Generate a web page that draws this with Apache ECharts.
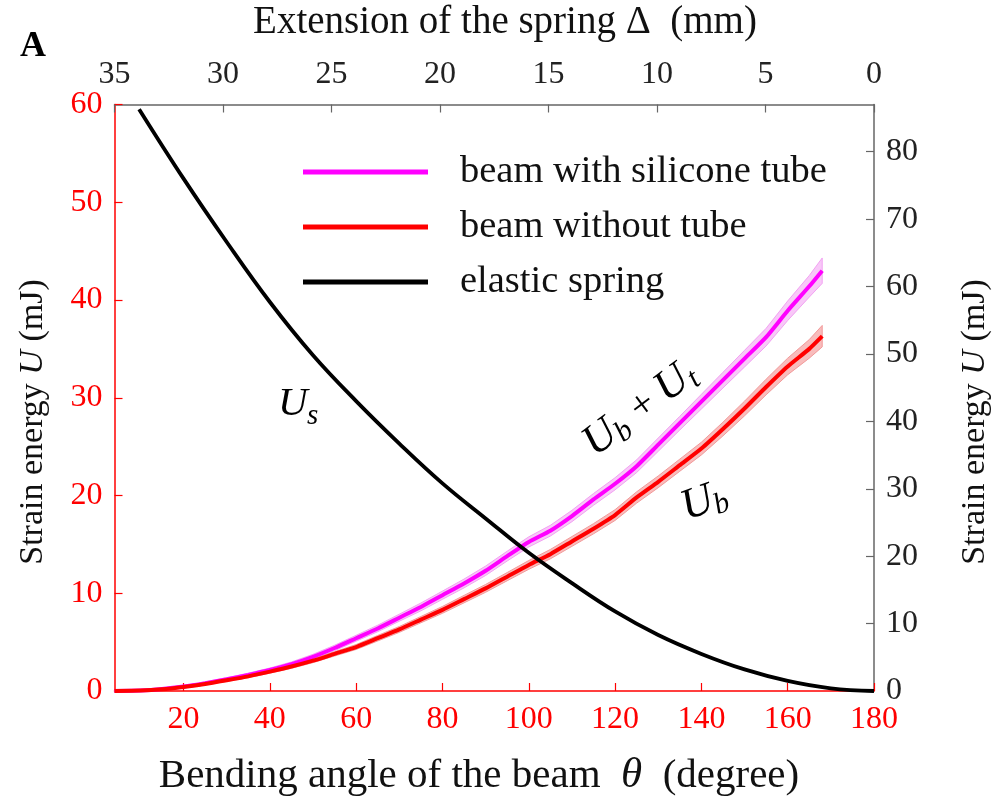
<!DOCTYPE html>
<html>
<head>
<meta charset="utf-8">
<script src="https://cdn.jsdelivr.net/npm/echarts@6/dist/echarts.min.js"></script>
<style>
  html, body { margin: 0; padding: 0; background: #fff; }
  #chart { width: 995px; height: 809px; }
</style>
</head>
<body>
<div id="chart"></div>
<script>
// Bending angle samples (degree) for the beam measurements
const thetaBeam = [4, 10, 15, 20, 25, 30, 35, 40, 45, 50, 55, 60, 65, 70, 75, 80, 85, 90, 95, 100,
                   105, 110, 115, 120, 125, 130, 135, 140, 145, 150, 155, 160, 165, 168];
// Beam with silicone tube: mean strain energy (mJ) and spread
const tubeMean = [0, 0.05, 0.2, 0.45, 0.8, 1.2, 1.65, 2.15, 2.75, 3.5, 4.4, 5.4, 6.4, 7.5, 8.6, 9.8,
                  11.0, 12.3, 13.8, 15.25, 16.4, 17.9, 19.6, 21.2, 23.0, 25.2, 27.4, 29.6, 31.8, 34.0,
                  36.2, 38.9, 41.4, 43.0];
const tubeSpread = [0, 0.05, 0.08, 0.1, 0.12, 0.15, 0.18, 0.2, 0.22, 0.25, 0.28, 0.3, 0.33, 0.36, 0.4, 0.42,
                    0.45, 0.48, 0.5, 0.52, 0.55, 0.58, 0.6, 0.62, 0.65, 0.68, 0.7, 0.75, 0.8, 0.85,
                    0.9, 1.0, 1.1, 1.3];
// Beam without tube: mean strain energy (mJ) and spread
const bareMean = [0, 0.05, 0.18, 0.42, 0.72, 1.1, 1.5, 1.98, 2.5, 3.1, 3.8, 4.5, 5.4, 6.3, 7.3, 8.3,
                  9.4, 10.5, 11.7, 12.9, 14.0, 15.3, 16.6, 18.0, 19.8, 21.4, 23.1, 24.8, 26.8, 28.9,
                  31.1, 33.2, 35.0, 36.3];
const bareSpread = [0, 0.04, 0.06, 0.08, 0.1, 0.12, 0.14, 0.16, 0.18, 0.2, 0.22, 0.25, 0.28, 0.3, 0.32, 0.35,
                    0.38, 0.4, 0.42, 0.45, 0.48, 0.5, 0.52, 0.55, 0.58, 0.6, 0.62, 0.65, 0.7, 0.75,
                    0.8, 0.85, 0.95, 1.1];
// Elastic spring energy (mJ, right axis) against bending angle
const thetaSpring = [9.7, 20, 30, 40, 50, 60, 70, 80, 90, 100, 110, 120, 130, 140, 150, 160, 170, 180];
const springEnergy = [86.3, 76.0, 66.6, 57.7, 49.8, 43.0, 36.7, 30.8, 25.6, 20.5, 16.0, 11.8, 8.3,
                      5.5, 3.2, 1.5, 0.4, 0];
// Tick labels
const angleTicks = [20, 40, 60, 80, 100, 120, 140, 160, 180];
const rightTicks = [0, 10, 20, 30, 40, 50, 60, 70, 80];

const serif = "'Liberation Serif', 'Times New Roman', serif";
const pairs = (xs, ys) => xs.map((x, i) => [x, ys[i]]);

const names = ['beam with silicone tube', 'beam without tube', 'elastic spring'];
const magenta = '#ff00ff';
const red = '#ff0000';

const chart = echarts.init(document.getElementById('chart'), null, { renderer: 'canvas' });

// Shaded spread band (mean ± spread) drawn as one polygon through the axes' scales
function band(name, mean, spread, edge, fill) {
  const upper = thetaBeam.map((t, i) => [t, mean[i] + spread[i]]);
  const lower = thetaBeam.map((t, i) => [t, mean[i] - spread[i]]).reverse();
  return {
    name: name, type: 'custom', xAxisIndex: 0, yAxisIndex: 0, silent: true, z: 1,
    data: [[thetaBeam[0], mean[0]]],
    renderItem: function (params, api) {
      const pts = upper.concat(lower).map(p => api.coord(p));
      return { type: 'polygon', shape: { points: pts }, style: { fill: fill, stroke: edge, lineWidth: 1 } };
    }
  };
}

// Small helper for the math-style labels (italic letter with subscript)
function mathText(x, y, text, size, italic) {
  return { type: 'text', x: x, y: y, z: 100,
           style: { text: text, font: (italic ? 'italic ' : '') + size + 'px ' + serif, fill: '#000', verticalAlign: 'middle' } };
}

const axisCommon = { splitLine: { show: false } };

const option = {
  animation: false,
  backgroundColor: '#fff',
  textStyle: { fontFamily: serif },
  grid: { left: 114.5, right: 121, top: 104.5, bottom: 118, containLabel: false, outerBoundsMode: 'none' },
  legend: {
    data: names,
    orient: 'vertical',
    left: 303, top: 152, padding: 0,
    icon: 'rect',
    itemWidth: 125, itemHeight: 5, itemGap: 15,
    textStyle: { fontFamily: serif, fontSize: 38.5, color: '#111', lineHeight: 40, padding: [0, 0, 0, 27] }
  },
  xAxis: [
    Object.assign({
      type: 'value', position: 'bottom', min: 4, max: 180,
      axisLine: { show: true, onZero: false, lineStyle: { color: red, width: 1.5 } },
      axisTick: { show: true, inside: true, length: 8, customValues: angleTicks, lineStyle: { color: red, width: 1.2 } },
      axisLabel: { customValues: angleTicks, color: red, fontSize: 32, fontFamily: serif, margin: 13 }
    }, axisCommon),
    Object.assign({
      type: 'value', position: 'top', min: 0, max: 35, interval: 5, inverse: true,
      axisLine: { show: true, onZero: false, lineStyle: { color: '#666', width: 1.5 } },
      axisTick: { show: true, inside: true, length: 8, lineStyle: { color: '#666', width: 1.2 } },
      axisLabel: { color: '#222', fontSize: 32, fontFamily: serif, margin: 14 }
    }, axisCommon)
  ],
  yAxis: [
    Object.assign({
      type: 'value', position: 'left', min: 0, max: 60, interval: 10,
      axisLine: { show: true, onZero: false, lineStyle: { color: red, width: 1.5 } },
      axisTick: { show: true, inside: true, length: 8, lineStyle: { color: red, width: 1.2 } },
      axisLabel: { color: red, fontSize: 32, fontFamily: serif, margin: 12 }
    }, axisCommon),
    Object.assign({
      type: 'value', position: 'right', min: 0, max: 87,
      axisLine: { show: true, onZero: false, lineStyle: { color: '#666', width: 1.5 } },
      axisTick: { show: true, inside: true, length: 8, customValues: rightTicks, lineStyle: { color: '#666', width: 1.2 } },
      axisLabel: { customValues: rightTicks, color: '#222', fontSize: 32, fontFamily: serif, margin: 12 }
    }, axisCommon)
  ],
  series: [
    band('tubeBand', tubeMean, tubeSpread, '#f2a2f2', '#f8c8f8'),
    band('bareBand', bareMean, bareSpread, '#f29a9a', '#f8bcbc'),
    {
      name: names[0], type: 'line', xAxisIndex: 0, yAxisIndex: 0,
      data: pairs(thetaBeam, tubeMean), symbol: 'none', smooth: 0.2,
      itemStyle: { color: magenta }, lineStyle: { color: magenta, width: 4 }, z: 3
    },
    {
      name: names[1], type: 'line', xAxisIndex: 0, yAxisIndex: 0,
      data: pairs(thetaBeam, bareMean), symbol: 'none', smooth: 0.2,
      itemStyle: { color: red }, lineStyle: { color: red, width: 4 }, z: 3
    },
    {
      name: names[2], type: 'line', xAxisIndex: 0, yAxisIndex: 1,
      data: pairs(thetaSpring, springEnergy), symbol: 'none', smooth: 0.4,
      itemStyle: { color: '#000' }, lineStyle: { color: '#000', width: 3.8 }, z: 4
    }
  ],
  graphic: [
    { type: 'text', left: 20, top: 29, z: 100, style: { text: 'A', font: 'bold 36px ' + serif, fill: '#000' } },
    { type: 'text', x: 505, y: 23, z: 100, style: { text: 'Extension of the spring Δ  (mm)', font: '39px ' + serif, fill: '#111', align: 'center', verticalAlign: 'middle' } },
    { type: 'text', x: 479, y: 776, z: 100, style: {
        text: '{n|Bending angle of the beam  }{i|θ}{n|  (degree)}',
        rich: { n: { font: '41px ' + serif, fill: '#111' }, i: { font: 'italic 43px ' + serif, fill: '#111' } },
        align: 'center', verticalAlign: 'middle' } },
    { type: 'text', x: 33, y: 422, rotation: Math.PI / 2, z: 100, style: {
        text: '{n|Strain energy }{i|U}{n| (mJ)}',
        rich: { n: { font: '34px ' + serif, fill: '#111' }, i: { font: 'italic 34px ' + serif, fill: '#111' } },
        align: 'center', verticalAlign: 'middle' } },
    { type: 'text', x: 975, y: 422, rotation: Math.PI / 2, z: 100, style: {
        text: '{n|Strain energy }{i|U}{n| (mJ)}',
        rich: { n: { font: '34px ' + serif, fill: '#111' }, i: { font: 'italic 34px ' + serif, fill: '#111' } },
        align: 'center', verticalAlign: 'middle' } },
    // U_s label beside the spring curve
    { type: 'group', x: 278, y: 404, z: 100, children: [
        mathText(0, 0, 'U', 41, true),
        mathText(29, 12, 's', 29, true)
    ] },
    // U_b + U_t label along the tube curve
    { type: 'group', x: 588, y: 448, rotation: 37 * Math.PI / 180, z: 100, children: [
        mathText(0, 0, 'U', 44, true),
        mathText(31, 9, 'b', 30, true),
        mathText(58, 0, '+', 40, false),
        mathText(90, 0, 'U', 44, true),
        mathText(122, 9, 't', 30, true)
    ] },
    // U_b label under the bare-beam curve
    { type: 'group', x: 682.7, y: 509.3, rotation: 20 * Math.PI / 180, z: 100, children: [
        mathText(0, 0, 'U', 44, true),
        mathText(31, 9, 'b', 30, true)
    ] }
  ]
};

chart.setOption(option);
</script>
</body>
</html>
